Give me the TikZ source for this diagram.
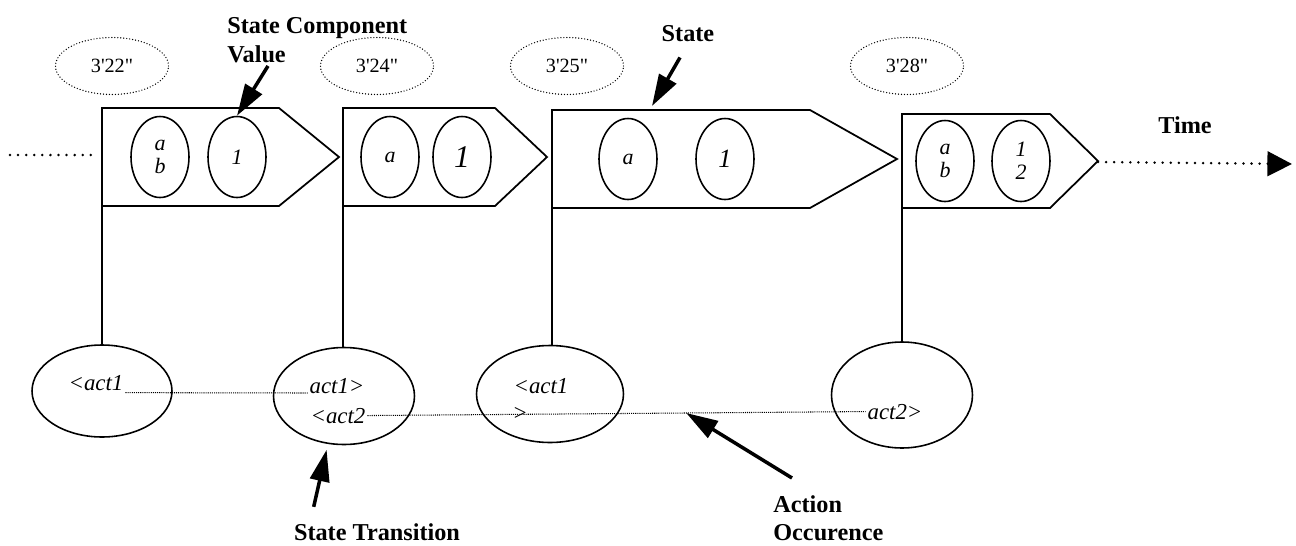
\documentclass[tikz,border=0pt]{standalone}
\usepackage{fontspec}
\setmainfont{Liberation Serif}[Ligatures=TeXOff]
\usepackage{tikz}
\usetikzlibrary{arrows.meta, positioning, calc, shapes.geometric}
\tikzset{
  statebox/.style={draw, line width=1pt, line join=miter},
  valoval/.style={ellipse, draw, line width=0.9pt, minimum width=1.16cm, minimum height=1.62cm,
                  inner sep=0pt, align=center, font=\fontsize{12.5}{13}\selectfont\itshape},
  stampoval/.style={ellipse, draw, line width=0.8pt, line cap=round, dash pattern=on 0pt off 1.7pt,
                    minimum width=2.26cm, minimum height=1.14cm, font=\fontsize{11.5}{13}\selectfont},
  actoval/.style={ellipse, draw, line width=0.9pt, inner sep=0pt},
  acttxt/.style={font=\fontsize{13}{15}\selectfont\itshape, inner sep=1pt, anchor=base},
  actline/.style={line width=0.6pt, dash pattern=on 0.6pt off 0.6pt},
  timeline/.style={line width=1.6pt, line cap=round, dash pattern=on 0pt off 4.6pt},
  tick/.style={line width=1pt},
  pointer/.style={-{Triangle[length=18pt,width=11pt]}, line width=2pt},
  lbl/.style={font=\fontsize{13.8}{16.4}\selectfont\bfseries, align=left, inner sep=0pt},
}
\begin{document}
\begin{tikzpicture}[x=0.02cm, y=-0.02cm]
  \useasboundingbox (0,0) rectangle (1296,545);

  \node[stampoval] (t1) at (112,66) {3'22"};
  \node[stampoval] (t2) at (377,66) {3'24"};
  \node[stampoval] (t3) at (567,66) {3'25"};
  \node[stampoval] (t4) at (907,66) {3'28"};

  \draw[statebox] (102,108) -- (279,108) -- (339,157) -- (279,206) -- (102,206) -- cycle;
  \draw[statebox] (343,108) -- (495,108) -- (547,157) -- (495,206) -- (343,206) -- cycle;
  \draw[statebox] (552,110) -- (810,110) -- (897,159) -- (810,208) -- (552,208) -- cycle;
  \draw[statebox] (902,114) -- (1050,114) -- (1098,161) -- (1050,208) -- (902,208) -- cycle;
  \coordinate (s1) at (102,206);
  \coordinate (s2) at (343,206);
  \coordinate (s3) at (552,208);
  \coordinate (s4) at (902,208);
  \coordinate (st3) at (652,106);
  \coordinate (tip4) at (1098,162);
  \coordinate (past) at (10,155);
  \coordinate (future) at (1292,164);

  \node[valoval] (v11) at (160,157) {a\\b};
  \node[valoval] (v12) at (237,157) {1};
  \node[valoval] (v21) at (390,157) {a};
  \node[valoval, font=\fontsize{18}{18}\selectfont\itshape] (v22) at (462,157) {1};
  \node[valoval] (v31) at (628,159) {a};
  \node[valoval, font=\fontsize{15}{15}\selectfont\itshape] (v32) at (725,159) {1};
  \node[valoval] (v41) at (945,161) {a\\b};
  \node[valoval] (v42) at (1021,161) {1\\2};

  \node[actoval, minimum width=2.8cm, minimum height=1.84cm] (e1) at (102,391) {};
  \node[actoval, minimum width=2.82cm, minimum height=1.94cm] (e2) at (344,396) {};
  \node[actoval, minimum width=2.94cm, minimum height=1.94cm] (e3) at (550,394) {};
  \node[actoval, minimum width=2.82cm, minimum height=2.12cm] (e4) at (902,395) {};

  \node[acttxt] (a1) at (96,390) {<act1};
  \node[acttxt] (a2) at (337,393) {act1>};
  \node[acttxt] (a3) at (338,423) {<act2};
  \node[acttxt] (a4) at (541,393) {<act1};
  \node[acttxt] (a5) at (520,420) {>};
  \node[acttxt] (a6) at (895,419) {act2>};

  \draw[tick] (s1) -- (s1 |- e1.north);
  \draw[tick] (s2) -- (s2 |- e2.north);
  \draw[tick] (s3) -- (s3 |- e3.north);
  \draw[tick] (s4) -- (s4 |- e4.north);

  \draw[actline] ([yshift=-1.5pt]a1.base east) -- (a2.base west);
  \draw[actline] (a3.east) -- (a6.west);

  \draw[timeline, shorten >=2.5pt] (past) -- (past -| s1);
  \draw[timeline, -{Triangle[length=14pt,width=14pt]}] (tip4) -- (future);
  \node[lbl] (tl) at (1185,125) {Time};

  \node[lbl, anchor=north west] (scv) at (227,17) {State Component\\Value};
  \node[lbl] (stl) at (688,34) {State};
  \node[lbl, anchor=base] (stt) at (377,540) {State Transition};
  \node[lbl, anchor=north west] (ao) at (773,495) {Action\\Occurence};

  \draw[pointer] ([shift={(41,3)}]scv.south west) -- (v12.north);
  \draw[pointer] ([shift={(-8,15)}]stl.south) -- (st3);
  \draw[pointer] ([shift={(20,-16)}]stt.north west) -- ([shift={(0,6)}]e2.250);
  \draw[pointer] ([shift={(19,-17)}]ao.north west) -- ($(a3.east)!0.64!(a6.west)$);
\end{tikzpicture}
\end{document}
